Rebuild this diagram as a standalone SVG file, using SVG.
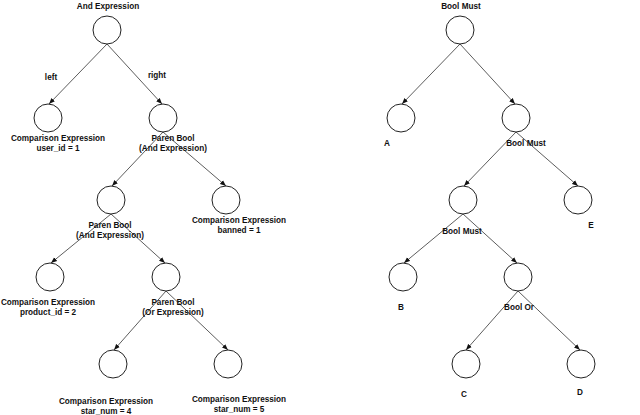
<svg xmlns="http://www.w3.org/2000/svg" width="640" height="415" viewBox="0 0 640 415">
<style>
.n{fill:#fff;stroke:#222;stroke-width:1}
.t{font-family:"Liberation Sans",Arial,sans-serif;font-weight:bold;font-size:8.2px;fill:#111;text-anchor:middle}
.e{stroke:#333;stroke-width:0.8;fill:none;marker-end:url(#ah)}
</style>
<defs>
<marker id="ah" viewBox="0 0 10 10" refX="10" refY="5" markerWidth="6" markerHeight="6" markerUnits="userSpaceOnUse" orient="auto">
<path d="M0,1 L10,5 L0,9 z" fill="#111"/>
</marker>
</defs>
<rect width="640" height="415" fill="#fff"/>
<g id="connectors">
<line class="e" x1="107" y1="44" x2="49" y2="104"/>
<line class="e" x1="107" y1="44" x2="162" y2="104"/>
<line class="e" x1="163" y1="132" x2="112" y2="186"/>
<line class="e" x1="163" y1="132" x2="226" y2="186"/>
<line class="e" x1="111" y1="214" x2="51" y2="263"/>
<line class="e" x1="111" y1="214" x2="165" y2="263"/>
<line class="e" x1="166" y1="291" x2="114" y2="350"/>
<line class="e" x1="166" y1="291" x2="228" y2="350"/>
<line class="e" x1="460" y1="44" x2="402" y2="104"/>
<line class="e" x1="460" y1="44" x2="515" y2="104"/>
<line class="e" x1="516" y1="132" x2="464" y2="186"/>
<line class="e" x1="516" y1="132" x2="578" y2="186"/>
<line class="e" x1="463" y1="214" x2="404" y2="263"/>
<line class="e" x1="463" y1="214" x2="517" y2="263"/>
<line class="e" x1="518" y1="291" x2="466" y2="350"/>
<line class="e" x1="518" y1="291" x2="580" y2="350"/>
</g>
<g id="edge-labels">
<text class="t" x="51" y="80">left</text>
<text class="t" x="157" y="78">right</text>
</g>
<g id="and-expr"><circle class="n" cx="107" cy="30" r="14"/><text class="t" x="108" y="9">And Expression</text></g>
<g id="cmp-user"><circle class="n" cx="48" cy="118" r="14"/><text class="t" x="58" y="141">Comparison Expression</text><text class="t" x="58" y="151">user_id = 1</text></g>
<g id="paren-and-1"><circle class="n" cx="163" cy="118" r="14"/><text class="t" x="173" y="141">Paren Bool</text><text class="t" x="173" y="151">(And Expression)</text></g>
<g id="paren-and-2"><circle class="n" cx="111" cy="200" r="14"/><text class="t" x="110" y="228">Paren Bool</text><text class="t" x="110" y="238">(And Expression)</text></g>
<g id="cmp-banned"><circle class="n" cx="226" cy="200" r="14"/><text class="t" x="239" y="223">Comparison Expression</text><text class="t" x="239" y="233">banned = 1</text></g>
<g id="cmp-product"><circle class="n" cx="50" cy="277" r="14"/><text class="t" x="48" y="305">Comparison Expression</text><text class="t" x="48" y="315">product_id = 2</text></g>
<g id="paren-or"><circle class="n" cx="166" cy="277" r="14"/><text class="t" x="173" y="305">Paren Bool</text><text class="t" x="173" y="315">(Or Expression)</text></g>
<g id="cmp-star4"><circle class="n" cx="113" cy="364" r="14"/><text class="t" x="106" y="404">Comparison Expression</text><text class="t" x="106" y="414">star_num = 4</text></g>
<g id="cmp-star5"><circle class="n" cx="228" cy="364" r="14"/><text class="t" x="239" y="402">Comparison Expression</text><text class="t" x="239" y="412">star_num = 5</text></g>
<g id="bool-must-1"><circle class="n" cx="460" cy="30" r="14"/><text class="t" x="461" y="9">Bool Must</text></g>
<g id="leaf-a"><circle class="n" cx="401" cy="118" r="14"/><text class="t" x="387" y="146">A</text></g>
<g id="bool-must-2"><circle class="n" cx="516" cy="118" r="14"/><text class="t" x="526" y="146">Bool Must</text></g>
<g id="bool-must-3"><circle class="n" cx="463" cy="200" r="14"/><text class="t" x="462" y="234">Bool Must</text></g>
<g id="leaf-e"><circle class="n" cx="578" cy="200" r="14"/><text class="t" x="591" y="228">E</text></g>
<g id="leaf-b"><circle class="n" cx="403" cy="277" r="14"/><text class="t" x="401" y="310">B</text></g>
<g id="bool-or"><circle class="n" cx="518" cy="277" r="14"/><text class="t" x="519" y="310">Bool Or</text></g>
<g id="leaf-c"><circle class="n" cx="466" cy="364" r="14"/><text class="t" x="464" y="397">C</text></g>
<g id="leaf-d"><circle class="n" cx="581" cy="364" r="14"/><text class="t" x="580" y="395">D</text></g>
</svg>
